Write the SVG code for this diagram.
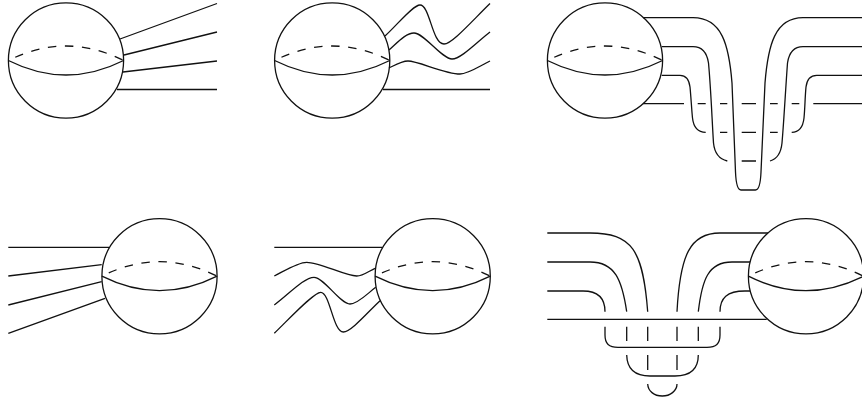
<svg xmlns="http://www.w3.org/2000/svg" width="862" height="403" viewBox="0 0 862 403">
<style>
path,circle{fill:none;stroke:#111;stroke-width:1.3;stroke-linecap:butt;stroke-linejoin:round}
.d{stroke-dasharray:8.5 8.6;stroke-dashoffset:9.6}
</style>
<rect width="862" height="403" fill="#fff"/>
<defs>
<g id="sphere">
<circle cx="0" cy="0" r="57.6"/>
<path d="M-57.6 0Q0 29 57.6 0"/>
<path class="d" d="M-57.6 0Q0 -29 57.6 0"/>
</g>
</defs>
<g id="sphere-1"><use href="#sphere" x="66" y="60.5"/></g>
<g id="sphere-2"><use href="#sphere" x="332.2" y="60.5"/></g>
<g id="sphere-3"><use href="#sphere" x="605" y="60.5"/></g>
<g id="sphere-4"><use href="#sphere" x="159.5" y="276.2"/></g>
<g id="sphere-5"><use href="#sphere" x="432.7" y="276.2"/></g>
<g id="sphere-6"><use href="#sphere" x="806" y="276.2"/></g>
<g id="connectors">
<path d="M120 39L217 3.500M124 55L217 32M123 72L217 61M117 89.500H217"/>
<path d="M385 36C398 24 413 5 420 5C430 5 432 44 444 44C452 44 472 21 490 3.500"/>
<path d="M389 50C398 42 406 33 414 33C424 33 442 59 452 59C461 59 477 42 490 32"/>
<path d="M389 68C397 64 402 61 408 61C418 61 445 74 460 74C468 74 478 67 490 61"/>
<path d="M383 89.500H490"/>
<path d="M643 17.700H693C722 17.700 729 45 732 83C733.500 115 734.500 145 735.500 172C736 184 738 190 741 190H755.500C758.500 190 760.500 184 761 172C762 145 763.500 115 765 83C768 45 775 17.700 803 17.700H862"/>
<path d="M661.700 46.700H693C703 46.700 707 53 708.500 63C711 90 712 120 713.500 143C714.500 153 719 159 727.300 161"/>
<path d="M770 161C777 159 781 153 782 143C784 120 785.500 90 787.500 63C789 53 793 46.700 803 46.700H862"/>
<path d="M661.700 75.300H680C686 75.300 689 79 690 87C691 97 691.500 108 692.500 118C693.500 127 698 132.300 705.700 132.300"/>
<path d="M791.700 132.300C799 132.300 803 127 804 118C805 108 805 97 806 87C807 79 810.500 75.300 816.700 75.300H862"/>
<path d="M643 103.700H684M697.700 103.700H705.700M720 103.700H727.300M741.700 103.700H756M770 103.700H777.700M791.700 103.700H799.300M813.300 103.700H862"/>
<path d="M720 132.300H727.300M741.700 132.300H756M770 132.300H777.700M741.700 161H756"/>
<path d="M8.300 247.300H109M8.300 276L101.700 264.700M8.300 305L101.700 281.700M8.300 333.300L105 298.300"/>
<path d="M274.300 247.300H382.300"/>
<path d="M274.300 276C286 270 298 262.300 306.700 262.300C320 262.300 345 276 356.700 276C363 276 369 271 375 268.300"/>
<path d="M274.300 305C288 295 304 277.300 314 277.300C324 277.300 340 304 350 304C358 304 368 293 375.700 287.300"/>
<path d="M274.300 333.300C292 316 314 292.300 320.700 292.300C330 292.300 333 332 343.300 332C351 332 368 312 380 300.700"/>
<path d="M547.300 233H590C632 233 643 250 647.700 311.700"/>
<path d="M547.300 262H590C615 262 622 280 626.700 311.700"/>
<path d="M547.300 291H583C597 291 605 298 605 311.700"/>
<path d="M677 311.700C680 255 690 233 720 233H768"/>
<path d="M698.300 311.700C702 280 708 262 732 262H750"/>
<path d="M720 311.700C720 298 727 291 745 291H750"/>
<path d="M547.300 319.300H766.700"/>
<path d="M605 326.700V335C605 344 609 347.300 618 347.300H707C716 347.300 720 344 720 335V326.700"/>
<path d="M626.700 326.700V341M647.700 326.700V341M677 326.700V341M698.300 326.700V341"/>
<path d="M626.700 355C627 368 633 376 650 376H675C692 376 698.300 368 698.300 355"/>
<path d="M647.700 355V370M677 355V370"/>
<path d="M647.700 384C648 391 654 396 662.300 396C670 396 677 391 677 384"/>
</g>
</svg>
